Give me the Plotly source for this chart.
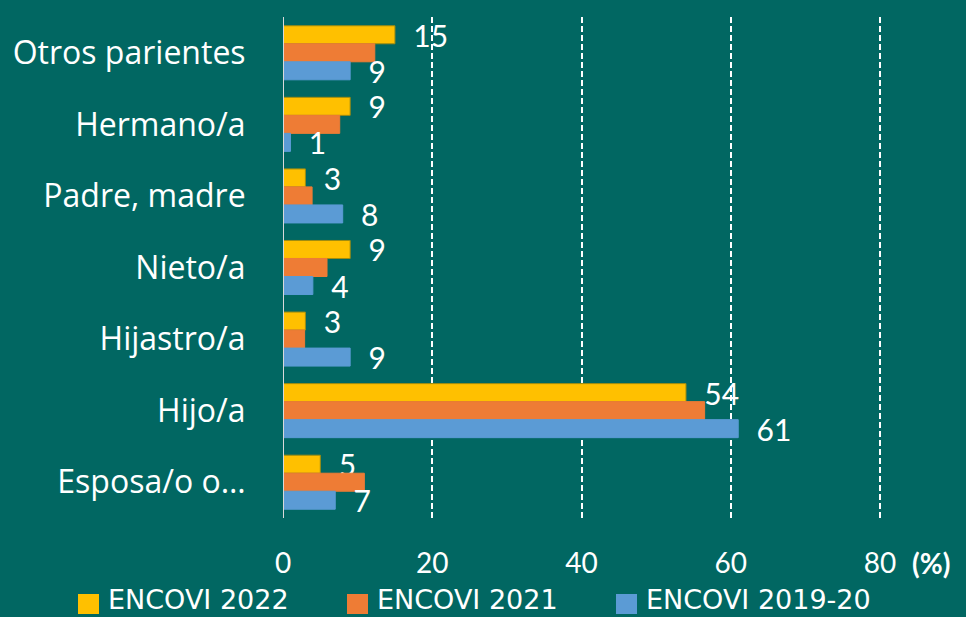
import plotly.graph_objects as go

# Categories, listed top to bottom
categories = ["Otros parientes", "Hermano/a", "Padre, madre", "Nieto/a",
              "Hijastro/a", "Hijo/a", "Esposa/o o…"]

series_names = ["ENCOVI 2022", "ENCOVI 2021", "ENCOVI 2019-20"]
encovi_2022 = [15, 9, 3, 9, 3, 54, 5]
encovi_2021 = [12.3, 7.6, 3.9, 5.9, 2.9, 56.5, 10.9]
encovi_2019_20 = [9, 1, 8, 4, 9, 61, 7]

tick_values = [0, 20, 40, 60, 80]
tick_labels = ["0", "20", "40", "60", "80"]

BG = "#016762"
NUM_FONT = "Lato"
TXT_FONT = "Open Sans"
LEG_FONT = "DejaVu Sans"
colors = ["#FFC000", "#EE7C35", "#5B9BD5"]
edge_colors = ["#A08C10", "#EE7C35", "#5B9BD5"]
show_labels = [True, False, True]
values = [encovi_2022, encovi_2021, encovi_2019_20]

# plot area in pixels
L, T, PW, PH = 283, 17, 600, 501

fig = go.Figure()
for name, vals, col, edge, lab in zip(series_names, values, colors, edge_colors, show_labels):
    fig.add_trace(go.Bar(
        y=categories, x=vals, name=name, orientation="h",
        marker=dict(color=col, line=dict(color=edge, width=1)),
        text=[f"\u00a0\u00a0{v:g}" for v in vals] if lab else None,
        textposition="outside" if lab else "none",
        constraintext="none",
        cliponaxis=False,
        textfont=dict(family=NUM_FONT, size=30, color="white"),
        showlegend=False,
        hoverinfo="x+y",
    ))

fig.update_layout(
    width=966, height=617,
    margin=dict(l=L, r=966 - L - PW, t=T, b=617 - T - PH),
    paper_bgcolor=BG, plot_bgcolor=BG,
    barmode="group", bargap=0.245, bargroupgap=0,
    font=dict(family=TXT_FONT, color="white"),
    xaxis=dict(
        range=[0, 80.4], tickvals=tick_values, ticktext=tick_labels,
        showgrid=True, gridcolor="white", gridwidth=1.5, griddash="6px,3px",
        zeroline=False, showline=False,
        ticks="outside", ticklen=20, tickcolor="rgba(0,0,0,0)",
        tickfont=dict(family=NUM_FONT, size=28, color="white"),
    ),
    yaxis=dict(
        autorange="reversed", showgrid=False, zeroline=False,
        showline=False, ticks="outside", ticklen=30, tickcolor="rgba(0,0,0,0)",
        tickfont=dict(family=TXT_FONT, size=32, color="white"),
    ),
)

# Vertical baseline at zero
fig.add_shape(type="line", xref="x", yref="paper", x0=0, x1=0, y0=0, y1=1,
              line=dict(color="#D9D9D9", width=2))


def px(xp):
    return (xp - L) / PW


def py(yp):
    return (T + PH - yp) / PH


# Unit marker next to the last tick
fig.add_annotation(xref="paper", yref="paper", x=px(910), y=py(563), xanchor="left",
                   yanchor="middle", text="<b>(%)</b>", showarrow=False,
                   font=dict(family=NUM_FONT, size=28, color="white"))

# Legend drawn along the bottom edge
legend_x = [78, 347, 616]
for name, col, lx in zip(series_names, colors, legend_x):
    fig.add_shape(type="rect", xref="paper", yref="paper",
                  x0=px(lx), x1=px(lx + 21), y0=py(614), y1=py(594),
                  fillcolor=col, line=dict(width=0))
    fig.add_annotation(xref="paper", yref="paper",
                       x=px(lx + 28), y=py(600),
                       xanchor="left", yanchor="middle", text=name,
                       showarrow=False,
                       font=dict(family=LEG_FONT, size=27, color="white"))

fig.write_html("out.html")
